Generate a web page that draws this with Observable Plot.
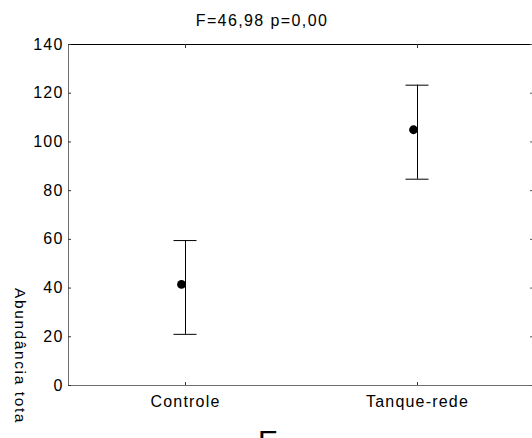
<!DOCTYPE html>
<html>
<head>
<meta charset="utf-8">
<script src="https://cdn.jsdelivr.net/npm/d3@7"></script>
<script src="https://cdn.jsdelivr.net/npm/@observablehq/plot@0.6"></script>
<style>
  html, body { margin: 0; padding: 0; background: white; }
  #wrap { position: relative; width: 532px; height: 438px; overflow: hidden; background: white;
          font-family: 'Liberation Sans', Arial, sans-serif; color: black; }
  #chart { position: absolute; left: 0; top: 0; width: 540px; height: 438px; }
  #chart svg { max-width: none !important; }
  #title { position: absolute; left: 0; top: 13px; width: 524px; text-align: center;
           font-size: 16px; line-height: 16px; letter-spacing: 1.4px; white-space: nowrap; }
  #ylabclip { position: absolute; left: 0; top: 0; width: 60px; height: 423px; overflow: hidden; }
  #ylab { position: absolute; left: 29px; top: 288px; transform-origin: 0 0; transform: rotate(90deg);
          font-size: 15.5px; line-height: 17px; letter-spacing: 1.6px; white-space: nowrap; }
  #panel { position: absolute; left: 258px; top: 426px; font-size: 30px; line-height: 30px; }
</style>
</head>
<body>
<div id="wrap">
  <div id="chart"></div>
  <div id="title">F=46,98 p=0,00</div>
  <div id="ylabclip"><div id="ylab">Abundância total</div></div>
  <div id="panel">E</div>
</div>
<script>
const categories = ["Controle", "Tanque-rede"];
const means = [41.5, 105];
const upper = [59.5, 123.3];
const lower = [21, 84.7];
const yTicks = [0, 20, 40, 60, 80, 100, 120, 140];

const data = categories.map((c, i) => ({cat: c, mean: means[i], hi: upper[i], lo: lower[i]}));

const W = 540, H = 438, mL = 68, mR = 7, mT = 44, mB = 53;
const plotW = W - mL - mR;
const plotH = H - mT - mB;

const chart = Plot.plot({
  width: W,
  height: H,
  marginLeft: mL,
  marginRight: mR,
  marginTop: mT,
  marginBottom: mB,
  x: {type: "point", domain: categories, padding: 0.5},
  y: {domain: [0, 140]},
  style: {
    fontFamily: "'Liberation Sans', Arial, sans-serif",
    fontSize: "16px",
    letterSpacing: "1.2px",
    color: "black",
    background: "white",
    overflow: "visible",
    maxWidth: "none"
  },
  marks: [
    Plot.frame({stroke: "#707070"}),
    Plot.ruleY([140], {stroke: "black", strokeWidth: 1.2}),
    Plot.tickY(yTicks, {y: d => d, insetRight: plotW - 3, stroke: "#333"}),
    Plot.tickY(yTicks, {y: d => d, insetLeft: plotW - 3, stroke: "#555"}),
    Plot.tickX(categories, {x: d => d, insetTop: plotH - 3, stroke: "#333"}),
    Plot.tickX(categories, {x: d => d, insetBottom: plotH - 4, stroke: "#333"}),
    Plot.axisY({ticks: yTicks, tickSize: 0, tickPadding: 5, label: null, fontSize: 16, tickFormat: d => String(d)}),
    Plot.axisX({tickSize: 0, tickPadding: 10, label: null, fontSize: 16}),
    Plot.ruleX(data, {x: "cat", y1: "lo", y2: "hi", stroke: "black"}),
    Plot.ruleY(data, {y: "hi", x1: "cat", x2: "cat", insetLeft: -11.5, insetRight: -11.5, stroke: "black"}),
    Plot.ruleY(data, {y: "lo", x1: "cat", x2: "cat", insetLeft: -11.5, insetRight: -11.5, stroke: "black"}),
    Plot.dot(data, {x: "cat", y: "mean", r: 4.4, fill: "black", stroke: "none", dx: -4})
  ]
});
document.getElementById("chart").appendChild(chart);
</script>
</body>
</html>
